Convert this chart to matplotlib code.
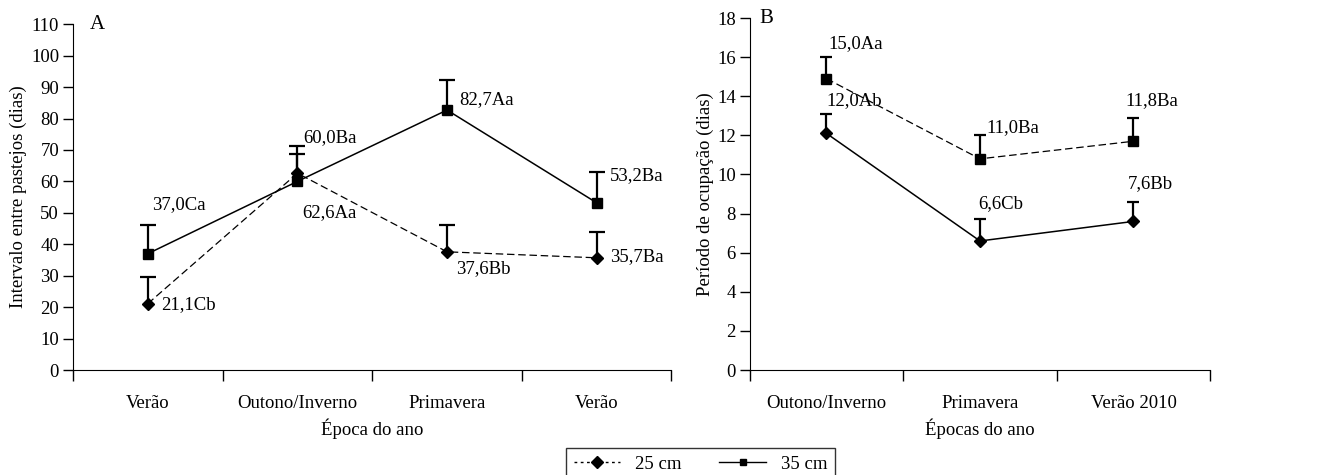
import numpy as np
import matplotlib
matplotlib.use('Agg')
import matplotlib.pyplot as plt
from matplotlib.lines import Line2D

plt.rcParams['font.family'] = ['Liberation Serif', 'DejaVu Serif']
plt.rcParams['font.size'] = 13.5

# Panel A - intervalo entre pastejos
cats_a = ['Verão', 'Outono/Inverno', 'Primavera', 'Verão']
a_25 = [21.1, 62.6, 37.6, 35.7]
a_25_err = [8.6, 6.1, 8.5, 8.3]
a_35 = [37.0, 60.0, 82.7, 53.2]
a_35_err = [9.0, 11.2, 9.5, 9.8]
a_25_lbl = ['21,1Cb', '62,6Aa', '37,6Bb', '35,7Ba']
a_35_lbl = ['37,0Ca', '60,0Ba', '82,7Aa', '53,2Ba']

# Panel B - periodo de ocupacao
cats_b = ['Outono/Inverno', 'Primavera', 'Verão 2010']
b_25 = [12.1, 6.6, 7.6]
b_25_err = [1.0, 1.1, 1.0]
b_35 = [14.9, 10.8, 11.7]
b_35_err = [1.1, 1.2, 1.2]
b_25_lbl = ['12,0Ab', '6,6Cb', '7,6Bb']
b_35_lbl = ['15,0Aa', '11,0Ba', '11,8Ba']


def up_errorbar(ax, x, y, err, capsize):
    """ Error bar drawn only upwards, with a cap at the top """
    _, caps, _ = ax.errorbar(x, y, yerr=[np.zeros(len(err)), err], fmt='none',
                             ecolor='black', elinewidth=1.6, capsize=capsize,
                             capthick=1.6, zorder=2)
    caps[0].set_visible(False)  # lower caps


def style_axes(ax, n, ymax, ystep):
    ax.set_xlim(0, n)
    ax.set_ylim(0, ymax)
    ax.set_yticks(np.arange(0, ymax + 0.1, ystep))
    ax.set_xticks(np.arange(0, n + 1))
    ax.set_xticklabels([])
    ax.spines['top'].set_visible(False)
    ax.spines['right'].set_visible(False)
    ax.tick_params(axis='x', which='major', direction='out', length=8, width=1)
    ax.tick_params(axis='x', which='minor', length=0, pad=18)
    ax.tick_params(axis='y', direction='out', length=7, width=1, pad=3)


fig = plt.figure(figsize=(13.27, 4.75), dpi=100)
ax1 = fig.add_axes([0.055, 0.221, 0.451, 0.728])
ax2 = fig.add_axes([0.565, 0.221, 0.347, 0.741])

# ---- Panel A
xa = np.arange(len(cats_a)) + 0.5
up_errorbar(ax1, xa, a_25, a_25_err, 6)
up_errorbar(ax1, xa, a_35, a_35_err, 6)
ax1.plot(xa, a_25, color='black', lw=0.9, ls=(0, (6, 3)), marker='D', ms=6.5, zorder=3)
ax1.plot(xa, a_35, color='black', lw=1.1, ls='-', marker='s', ms=7, zorder=3)
style_axes(ax1, len(cats_a), 110, 10)
ax1.set_xticks(xa, minor=True)
ax1.set_xticklabels(cats_a, minor=True)
ax1.set_xlabel('Época do ano', labelpad=5)
ax1.set_ylabel('Intervalo entre pastejos (dias)', labelpad=3)
ax1.text(0.11, 110, 'A', ha='left', va='center', fontsize=15)

pos_a35 = [(0.53, 52.5), (1.54, 74), (2.58, 86), (3.59, 62)]
pos_a25 = [(0.59, 20.7), (1.53, 50), (2.56, 32.4), (3.59, 36)]
for (px, py), t in zip(pos_a35, a_35_lbl):
    ax1.text(px, py, t, ha='left', va='center')
for (px, py), t in zip(pos_a25, a_25_lbl):
    ax1.text(px, py, t, ha='left', va='center')

# ---- Panel B
xb = np.arange(len(cats_b)) + 0.5
up_errorbar(ax2, xb, b_25, b_25_err, 4)
up_errorbar(ax2, xb, b_35, b_35_err, 4)
ax2.plot(xb, b_25, color='black', lw=1.1, ls='-', marker='D', ms=6, zorder=3)
ax2.plot(xb, b_35, color='black', lw=0.9, ls=(0, (6, 3)), marker='s', ms=7, zorder=3)
style_axes(ax2, len(cats_b), 18, 2)
ax2.set_xticks(xb, minor=True)
ax2.set_xticklabels(cats_b, minor=True)
ax2.set_xlabel('Épocas do ano', labelpad=5)
ax2.set_ylabel('Período de ocupação (dias)', labelpad=2)
ax2.text(0.065, 18, 'B', ha='left', va='center', fontsize=15)

pos_b35 = [(0.51, 16.7), (1.54, 12.4), (2.45, 13.8)]
pos_b25 = [(0.50, 13.8), (1.49, 8.5), (2.46, 9.55)]
for (px, py), t in zip(pos_b35, b_35_lbl):
    ax2.text(px, py, t, ha='left', va='center')
for (px, py), t in zip(pos_b25, b_25_lbl):
    ax2.text(px, py, t, ha='left', va='center')

# ---- shared legend
handles = [Line2D([], [], color='black', lw=1, ls=(0, (2, 2.5)), marker='D', ms=6),
           Line2D([], [], color='black', lw=1, ls='-', marker='s', ms=5)]
leg = fig.legend(handles, ['25 cm', '35 cm'], loc='upper center', ncol=2,
                 bbox_to_anchor=(0.528, 0.057), frameon=True, fancybox=False,
                 edgecolor='black', handlelength=2.5, columnspacing=2.0,
                 borderaxespad=0)
leg.get_frame().set_linewidth(1)

fig.savefig('out.png', dpi=100)
